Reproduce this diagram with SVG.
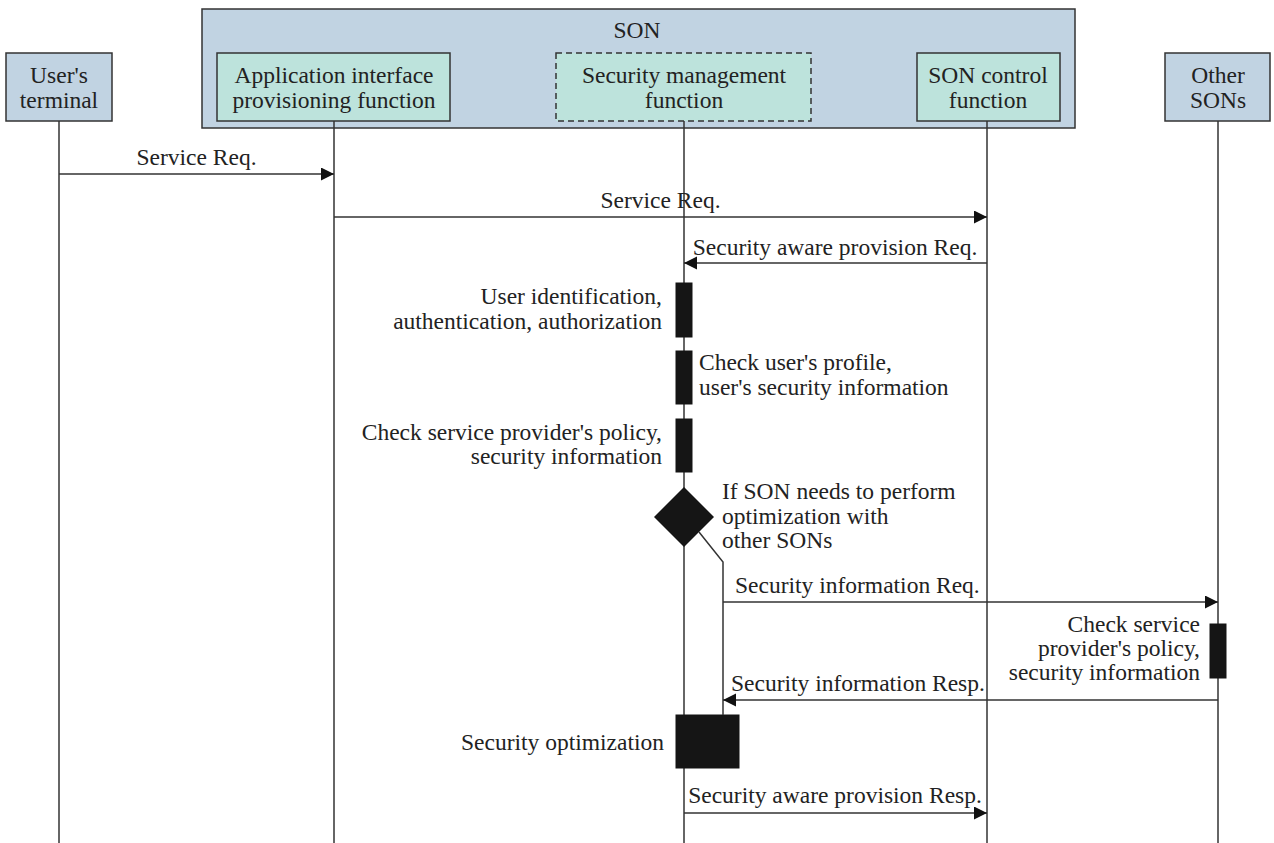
<svg xmlns="http://www.w3.org/2000/svg" width="1274" height="843" viewBox="0 0 1274 843">
<style>
text{font-family:"Liberation Serif",Tinos,"Times New Roman",Times,"DejaVu Serif","Noto Serif",serif;font-size:23.5px;fill:#222}
.c{text-anchor:middle}
.e{text-anchor:end}
.box{stroke:#333;stroke-width:1.5}
.outer{fill:#c1d3e2}
.inner{fill:#bde3dc}
.life{stroke:#333;stroke-width:1.5;fill:none}
.msg{stroke:#333;stroke-width:1.3;fill:none;marker-end:url(#ah)}
.act{fill:#151515;stroke:#151515}
</style>
<defs>
<marker id="ah" markerUnits="userSpaceOnUse" markerWidth="14" markerHeight="14" refX="13" refY="6.5" orient="auto">
<path d="M0,0 L13,6.5 L0,13 Z" fill="#111"/>
</marker>
</defs>
<rect width="1274" height="843" fill="#fff"/>
<g id="son">
<rect class="box outer" x="202" y="9" width="873" height="119"/>
<text class="c" x="637" y="38">SON</text>
</g>
<g id="users-terminal">
<rect class="box outer" x="6" y="53" width="106" height="68"/>
<text class="c" x="59" y="83">User's</text>
<text class="c" x="59" y="108">terminal</text>
</g>
<g id="app-interface">
<rect class="box inner" x="217" y="53" width="233" height="68"/>
<text class="c" x="334" y="83">Application interface</text>
<text class="c" x="334" y="108">provisioning function</text>
</g>
<g id="security-management">
<rect class="box inner" x="556" y="53" width="255" height="68" stroke-dasharray="6,4"/>
<text class="c" x="684" y="83">Security management</text>
<text class="c" x="684" y="108">function</text>
</g>
<g id="son-control">
<rect class="box inner" x="917" y="53" width="143" height="68"/>
<text class="c" x="988" y="83">SON control</text>
<text class="c" x="988" y="108">function</text>
</g>
<g id="other-sons">
<rect class="box outer" x="1165" y="53" width="105" height="68"/>
<text class="c" x="1218" y="83">Other</text>
<text class="c" x="1218" y="108">SONs</text>
</g>
<g id="lifelines">
<line class="life" x1="59" y1="121" x2="59" y2="843"/>
<line class="life" x1="334" y1="121" x2="334" y2="843"/>
<line class="life" x1="684" y1="121" x2="684" y2="843"/>
<line class="life" x1="987" y1="121" x2="987" y2="843"/>
<line class="life" x1="1218" y1="121" x2="1218" y2="843"/>
</g>
<g id="activations">
<rect class="act" x="676" y="283" width="16" height="54"/>
<text class="e" x="662" y="304">User identification,</text>
<text class="e" x="662" y="329">authentication, authorization</text>
<rect class="act" x="676" y="351" width="16" height="53"/>
<text x="699" y="370">Check user's profile,</text>
<text x="699" y="395">user's security information</text>
<rect class="act" x="676" y="419" width="16" height="53"/>
<text class="e" x="662" y="440">Check service provider's policy,</text>
<text class="e" x="662" y="464">security information</text>
<polygon points="684,487 714,517 684,547 654,517" fill="#151515"/>
<text x="722" y="499">If SON needs to perform</text>
<text x="722" y="524">optimization with</text>
<text x="722" y="548">other SONs</text>
<rect class="act" x="1210" y="624" width="16" height="54"/>
<text class="e" x="1200" y="632">Check service</text>
<text class="e" x="1200" y="656">provider's policy,</text>
<text class="e" x="1200" y="680">security information</text>
<rect class="act" x="676" y="715" width="63" height="53"/>
<text class="e" x="664" y="750">Security optimization</text>
</g>
<g id="connectors">
<line class="msg" x1="59" y1="174" x2="334" y2="174"/>
<text class="c" x="196.5" y="165">Service Req.</text>
<line class="msg" x1="334" y1="217" x2="987" y2="217"/>
<text class="c" x="660.5" y="208">Service Req.</text>
<line class="msg" x1="987" y1="263" x2="684" y2="263"/>
<text class="c" x="835" y="255">Security aware provision Req.</text>
<polyline class="life" points="699,532 723,562 723,715"/>
<line class="msg" x1="723" y1="602" x2="1218" y2="602"/>
<text x="735" y="593">Security information Req.</text>
<line class="msg" x1="1218" y1="700" x2="723" y2="700"/>
<text x="731" y="691">Security information Resp.</text>
<line class="msg" x1="684" y1="813" x2="987" y2="813"/>
<text class="c" x="835" y="803">Security aware provision Resp.</text>
</g>
</svg>
